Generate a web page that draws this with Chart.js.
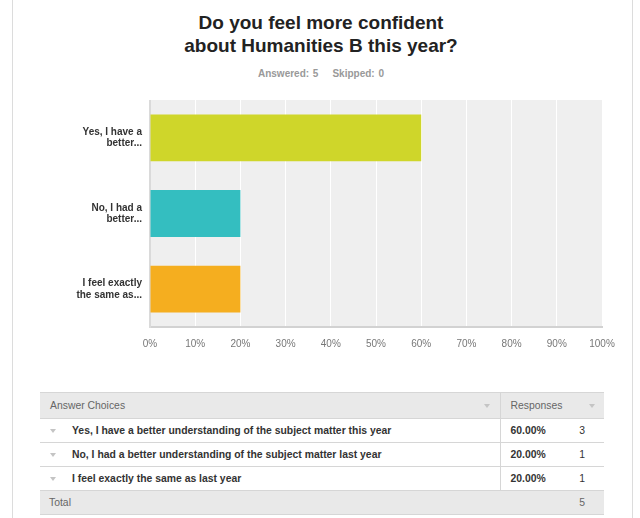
<!DOCTYPE html>
<html>
<head>
<meta charset="utf-8">
<script src="https://cdn.jsdelivr.net/npm/chart.js@4"></script>
<style>
    html, body { margin: 0; padding: 0; background: #fff; }
    body { width: 640px; height: 518px; position: relative; overflow: hidden; font-family: Arial, "Liberation Sans", sans-serif; }
    .edge { position: absolute; top: 0; bottom: 0; width: 1px; background: #dcdcdc; }
    .title { position: absolute; left: 0; width: 642px; top: 11px; text-align: center; font-size: 19px; font-weight: bold; line-height: 23px; color: #222; }
    .sub { position: absolute; left: 0; width: 642px; top: 68px; text-align: center; font-size: 10px; font-weight: bold; color: #999; word-spacing: 1px; }
    .sub span { margin: 0 7px; }
    #chartWrap { position: absolute; left: 0; top: 100px; width: 640px; height: 260px; }
    table { position: absolute; left: 40px; top: 392px; width: 564px; border-collapse: collapse; font-size: 10.4px; table-layout: fixed; }
    td { height: 23px; padding: 0; border-top: 1px solid #d6d6d6; border-bottom: 1px solid #d6d6d6; vertical-align: middle; white-space: nowrap; }
    tr.head td, tr.total td { background: #e9e9e9; color: #666; font-weight: normal; }
    tr.head td { height: 25px; }
    tr.row td { color: #333; font-weight: bold; }
    td.pct { border-left: 1px solid #d6d6d6; padding-left: 10px; }
    td.cnt { text-align: right; padding-right: 19px; color: #666; font-weight: normal !important; }
    .caret { display: inline-block; width: 0; height: 0; border-left: 3.5px solid transparent; border-right: 3.5px solid transparent; border-top: 4px solid #c4c4c4; vertical-align: middle; }
</style>
</head>
<body>
<div class="edge" style="left:12px"></div>
<div class="edge" style="left:632px"></div>

<div class="title" id="title"></div>
<div class="sub"><span id="answered"></span><span id="skipped"></span></div>

<div id="chartWrap"><canvas id="chart" width="640" height="260"></canvas></div>

<table id="tbl"><colgroup><col style="width:460px"><col style="width:70px"><col style="width:34px"></colgroup><tbody id="tbody"></tbody></table>

<script>
// Survey question
const questionLines = ['Do you feel more confident', 'about Humanities B this year?'];
const answered = 5;
const skipped = 0;

// Short (chart) and full (table) answer labels
const shortLabels = [
    ['Yes, I have a', 'better...'],
    ['No, I had a', 'better...'],
    ['I feel exactly', 'the same as...']
];
const fullLabels = [
    'Yes, I have a better understanding of the subject matter this year',
    'No, I had a better understanding of the subject matter last year',
    'I feel exactly the same as last year'
];

// Results
const percents = [60, 20, 20];
const counts = [3, 1, 1];
const barColors = ['#cfd62a', '#34bec0', '#f5ae1f'];

// Axis ticks
const xTicks = [0, 10, 20, 30, 40, 50, 60, 70, 80, 90, 100];

document.getElementById('title').innerHTML = questionLines.join('<br>');
document.getElementById('answered').textContent = 'Answered: ' + answered;
document.getElementById('skipped').textContent = 'Skipped: ' + skipped;

// Plot background
const plotBg = {
    id: 'plotBg',
    beforeDraw(chart) {
        const { ctx, chartArea: a } = chart;
        ctx.save();
        ctx.fillStyle = '#efefef';
        ctx.fillRect(a.left, a.top, a.right - a.left, a.bottom - a.top);
        ctx.restore();
    }
};

new Chart(document.getElementById('chart'), {
    type: 'bar',
    data: {
        labels: shortLabels,
        datasets: [{
            data: percents,
            backgroundColor: barColors,
            borderWidth: 0,
            barPercentage: 0.62,
            categoryPercentage: 1
        }]
    },
    options: {
        indexAxis: 'y',
        responsive: false,
        animation: false,
        layout: { padding: { left: 0, right: 38, top: 0, bottom: 0 } },
        plugins: { legend: { display: false }, tooltip: { enabled: false } },
        scales: {
            x: {
                min: 0,
                max: 100,
                afterBuildTicks(scale) {
                    scale.ticks = xTicks.map(v => ({ value: v }));
                },
                afterFit(scale) {
                    scale.height = 33;
                    scale.paddingLeft = 0;
                    scale.paddingRight = 0;
                },
                grid: { color: '#ffffff', lineWidth: 1, drawTicks: false },
                border: { color: '#d2d2d2', width: 2 },
                ticks: {
                    padding: 11,
                    color: '#777',
                    font: { family: 'Arial, "Liberation Sans"', size: 10 },
                    callback: v => v + '%'
                }
            },
            y: {
                afterFit(scale) {
                    scale.width = 150;
                    scale.paddingTop = 0;
                    scale.paddingBottom = 0;
                },
                grid: { display: false, drawTicks: false },
                border: { color: '#dadada', width: 2 },
                ticks: {
                    padding: 8,
                    color: '#333',
                    font: { family: 'Arial, "Liberation Sans"', size: 10, weight: 'bold', lineHeight: 1.13 }
                }
            }
        }
    },
    plugins: [plotBg]
});

// Response table
const tbody = document.getElementById('tbody');
let html = '<tr class="head"><td style="padding-left:10px">Answer Choices' +
    '<span class="caret" style="float:right;margin-right:10px;margin-top:4px"></span></td>' +
    '<td class="pct" colspan="2">Responses<span class="caret" style="float:right;margin-right:9px;margin-top:4px"></span></td></tr>';
fullLabels.forEach((label, i) => {
    html += '<tr class="row"><td><span class="caret" style="margin:0 16px 0 10px"></span>' + label + '</td>' +
        '<td class="pct">' + percents[i].toFixed(2) + '%</td>' +
        '<td class="cnt">' + counts[i] + '</td></tr>';
});
const total = counts.reduce((a, b) => a + b, 0);
html += '<tr class="total"><td style="padding-left:9px">Total</td><td></td><td class="cnt">' + total + '</td></tr>';
tbody.innerHTML = html;
</script>
</body>
</html>
